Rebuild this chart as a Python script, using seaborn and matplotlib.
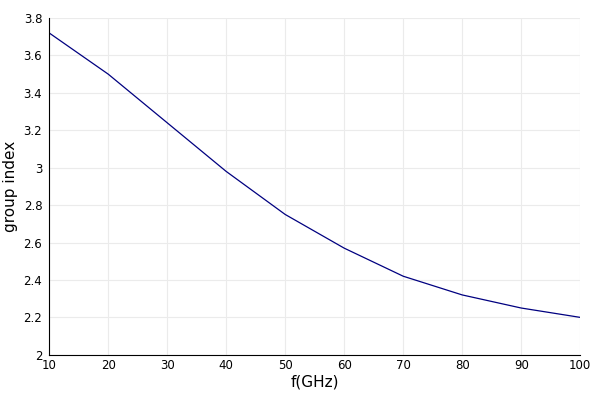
import matplotlib
matplotlib.use('Agg')
import matplotlib.pyplot as plt
import seaborn as sns
import pandas as pd

# group index vs frequency
freq = [10, 20, 30, 40, 50, 60, 70, 80, 90, 100]
group_index = [3.72, 3.50, 3.24, 2.98, 2.75, 2.57, 2.42, 2.32, 2.25, 2.20]

data = pd.DataFrame({'f': freq, 'ng': group_index})

sns.set_style('white')
plt.rcParams['font.family'] = ['DejaVu Sans']

fig, ax = plt.subplots(figsize=(6, 4), dpi=100)
sns.lineplot(x='f', y='ng', data=data, color='#000080', linewidth=0.9, ax=ax)

ax.set_xlim(10, 100)
ax.set_ylim(2, 3.8)
ax.set_xticks(range(10, 101, 10))
ax.set_yticks([2, 2.2, 2.4, 2.6, 2.8, 3, 3.2, 3.4, 3.6, 3.8])
ax.set_yticklabels(['2', '2.2', '2.4', '2.6', '2.8', '3', '3.2', '3.4', '3.6', '3.8'])
ax.grid(True, color='#ebebeb', linewidth=0.8)
ax.set_axisbelow(True)
for s in ['top', 'right']:
    ax.spines[s].set_visible(False)
for s in ['left', 'bottom']:
    ax.spines[s].set_color('black')
    ax.spines[s].set_linewidth(0.8)
ax.tick_params(axis='y', direction='out', length=3, width=0.8, labelsize=8.5,
               color='black', labelcolor='black', pad=2)
ax.tick_params(axis='x', length=0, labelsize=8.5, labelcolor='black', pad=3)
ax.set_xlabel('f(GHz)', fontsize=11, labelpad=2, color='black')
ax.set_ylabel('group index', fontsize=11, labelpad=4, color='black')

fig.subplots_adjust(left=0.082, right=0.967, top=0.955, bottom=0.113)
fig.savefig('out.png', dpi=100)
